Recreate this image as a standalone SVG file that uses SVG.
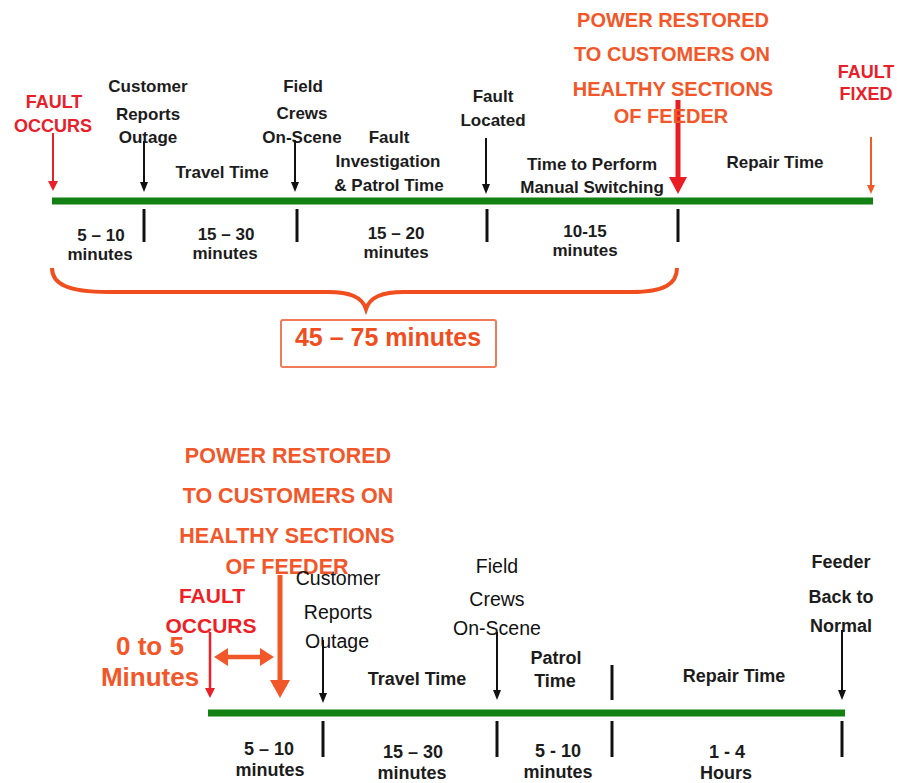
<svg xmlns="http://www.w3.org/2000/svg" width="897" height="783" viewBox="0 0 897 783">
<style>
text{font-family:"Liberation Sans",Arial,sans-serif;text-anchor:middle}
.lb{font-size:17px;font-weight:bold;fill:#1c1c1c}
.lb2{font-size:18px;font-weight:bold;fill:#1c1c1c}
.lr{font-size:19.5px;font-weight:normal;fill:#111}
.num{font-size:17px;font-weight:bold;fill:#1c1c1c}
.num2{font-size:18px;font-weight:bold;fill:#1c1c1c}
.red{font-size:18px;font-weight:bold;fill:#e8202a}
.red2{font-size:21px;font-weight:bold;fill:#ee1f26}
.pw{font-size:20px;font-weight:bold;fill:#f2572a}
.pw2{font-size:21.5px;font-weight:bold;fill:#f2572a}
.big{font-size:26px;font-weight:bold;fill:#f2572a}
.green{stroke:#138013;stroke-width:7;fill:none}
.tick{stroke:#111;stroke-width:3}
.ab{stroke:#111;stroke-width:2;marker-end:url(#mb)}
</style>
<defs>
<marker id="mb" viewBox="0 0 10 8" markerWidth="10" markerHeight="8" refX="1" refY="4" orient="auto" markerUnits="userSpaceOnUse"><path d="M0,0 L10,4 L0,8 z" fill="#111"/></marker>
<marker id="mr" viewBox="0 0 10 10" markerWidth="10" markerHeight="10" refX="1" refY="5" orient="auto" markerUnits="userSpaceOnUse"><path d="M0,0 L10,5 L0,10 z" fill="#e8202a"/></marker>
<marker id="mo" viewBox="0 0 9 8" markerWidth="9" markerHeight="8" refX="1" refY="4" orient="auto" markerUnits="userSpaceOnUse"><path d="M0,0 L9,4 L0,8 z" fill="#f05a28"/></marker>
<marker id="mrb" viewBox="0 0 17 18" markerWidth="17" markerHeight="18" refX="1" refY="9" orient="auto" markerUnits="userSpaceOnUse"><path d="M0,0 L17,9 L0,18 z" fill="#ea1c24"/></marker>
<marker id="mob" viewBox="0 0 18 20" markerWidth="18" markerHeight="20" refX="1" refY="10" orient="auto" markerUnits="userSpaceOnUse"><path d="M0,0 L18,10 L0,20 z" fill="#f2572a"/></marker>
<marker id="mod" viewBox="0 0 14 18" markerWidth="14" markerHeight="18" refX="1" refY="9" orient="auto-start-reverse" markerUnits="userSpaceOnUse"><path d="M0,0 L14,9 L0,18 z" fill="#f2572a"/></marker>
</defs>
<rect width="897" height="783" fill="#fff"/>

<!-- ===== TOP TIMELINE ===== -->
<g id="connectors-top">
<line class="green" x1="52" y1="201" x2="873" y2="201"/>
<line x1="53" y1="133" x2="53" y2="182" stroke="#e8202a" stroke-width="2" marker-end="url(#mr)"/>
<line class="ab" x1="144" y1="141" x2="144" y2="183"/>
<line class="ab" x1="295" y1="140" x2="295" y2="183"/>
<line class="ab" x1="486" y1="138" x2="486" y2="185"/>
<line x1="678" y1="100" x2="678" y2="178" stroke="#ea1c24" stroke-width="5" marker-end="url(#mrb)"/>
<line x1="871" y1="137" x2="871" y2="186" stroke="#f05a28" stroke-width="2" marker-end="url(#mo)"/>
<line class="tick" x1="144" y1="209" x2="144" y2="242"/>
<line class="tick" x1="297" y1="209" x2="297" y2="242"/>
<line class="tick" x1="487" y1="209" x2="487" y2="242"/>
<line class="tick" x1="678" y1="209" x2="678" y2="242"/>
<path d="M52,268 C52,284 68,292 108,292 L328,292 C350,292 362,297 366,309 C370,297 382,292 404,292 L632,292 C664,292 677,284 677,268" fill="none" stroke="#f04e1e" stroke-width="4"/>
</g>

<g id="fault-occurs-top">
<text class="red" x="54" y="108">FAULT</text>
<text class="red" x="53" y="132">OCCURS</text>
</g>
<g id="customer-top">
<text class="lb" x="148" y="92">Customer</text>
<text class="lb" x="148" y="120">Reports</text>
<text class="lb" x="148" y="143">Outage</text>
</g>
<g id="travel-top"><text class="lb" x="222" y="178">Travel Time</text></g>
<g id="field-top">
<text class="lb" x="303" y="92">Field</text>
<text class="lb" x="302" y="119">Crews</text>
<text class="lb" x="302" y="143">On-Scene</text>
</g>
<g id="patrol-top">
<text class="lb" x="389" y="143">Fault</text>
<text class="lb" x="388" y="167">Investigation</text>
<text class="lb" x="389" y="191">&amp; Patrol Time</text>
</g>
<g id="located-top">
<text class="lb" x="493" y="102">Fault</text>
<text class="lb" x="493" y="126">Located</text>
</g>
<g id="switching-top">
<text class="lb" x="592" y="170">Time to Perform</text>
<text class="lb" x="592" y="193">Manual Switching</text>
</g>
<g id="power-top">
<text class="pw" x="673" y="27">POWER RESTORED</text>
<text class="pw" x="672" y="61">TO CUSTOMERS ON</text>
<text class="pw" x="673" y="96">HEALTHY SECTIONS</text>
<text class="pw" x="671" y="123">OF FEEDER</text>
</g>
<g id="repair-top"><text class="lb" x="775" y="168">Repair Time</text></g>
<g id="fixed-top">
<text class="red" x="866" y="78">FAULT</text>
<text class="red" x="866" y="100">FIXED</text>
</g>
<g id="durations-top">
<text class="num" x="101" y="241">5 – 10</text>
<text class="num" x="100" y="260">minutes</text>
<text class="num" x="226" y="240">15 – 30</text>
<text class="num" x="225" y="259">minutes</text>
<text class="num" x="396" y="239">15 – 20</text>
<text class="num" x="396" y="258">minutes</text>
<text class="num" x="585" y="237">10-15</text>
<text class="num" x="585" y="256">minutes</text>
</g>
<g id="total-box">
<rect x="281" y="320" width="215" height="47" rx="2" fill="#fff" stroke="#f07a5a" stroke-width="2"/>
<text x="388" y="346" font-size="25" font-weight="bold" fill="#f04e1e">45 – 75 minutes</text>
</g>

<!-- ===== BOTTOM TIMELINE ===== -->
<g id="connectors-bottom">
<line class="green" x1="208" y1="713" x2="845" y2="713"/>
<line x1="210" y1="632" x2="210" y2="689" stroke="#ee1f26" stroke-width="2.5" marker-end="url(#mr)"/>
<line x1="280" y1="575" x2="280" y2="681" stroke="#f2572a" stroke-width="5" marker-end="url(#mob)"/>
<line x1="227" y1="657" x2="261" y2="657" stroke="#f2572a" stroke-width="4.5" marker-start="url(#mod)" marker-end="url(#mod)"/>
<line class="ab" x1="323" y1="640" x2="323" y2="694"/>
<line class="ab" x1="497" y1="632" x2="497" y2="691"/>
<line class="ab" x1="842" y1="630" x2="842" y2="691"/>
<line class="tick" x1="612" y1="665" x2="612" y2="700"/>
<line class="tick" x1="323" y1="721" x2="323" y2="757"/>
<line class="tick" x1="497" y1="721" x2="497" y2="757"/>
<line class="tick" x1="612" y1="721" x2="612" y2="757"/>
<line class="tick" x1="842" y1="721" x2="842" y2="757"/>
</g>
<g id="power-bottom">
<text class="pw2" x="288" y="463">POWER RESTORED</text>
<text class="pw2" x="288" y="503">TO CUSTOMERS ON</text>
<text class="pw2" x="287" y="543">HEALTHY SECTIONS</text>
<text class="pw2" x="287" y="574">OF FEEDER</text>
</g>
<g id="fault-occurs-bottom">
<text class="red2" x="212" y="603">FAULT</text>
<text class="red2" x="211" y="633">OCCURS</text>
</g>
<g id="zero-to-five">
<text class="big" x="150" y="655">0 to 5</text>
<text class="big" x="150" y="686">Minutes</text>
</g>
<g id="customer-bottom">
<text class="lr" x="338" y="585">Customer</text>
<text class="lr" x="338" y="619">Reports</text>
<text class="lr" x="337" y="648">Outage</text>
</g>
<g id="travel-bottom"><text class="lb2" x="417" y="685">Travel Time</text></g>
<g id="field-bottom">
<text class="lr" x="497" y="573">Field</text>
<text class="lr" x="497" y="606">Crews</text>
<text class="lr" x="497" y="635">On-Scene</text>
</g>
<g id="patrol-bottom">
<text class="lb2" x="556" y="664">Patrol</text>
<text class="lb2" x="555" y="687">Time</text>
</g>
<g id="repair-bottom"><text class="lb2" x="734" y="682">Repair Time</text></g>
<g id="normal-bottom">
<text class="lb2" x="841" y="568">Feeder</text>
<text class="lb2" x="841" y="603">Back to</text>
<text class="lb2" x="841" y="632">Normal</text>
</g>
<g id="durations-bottom">
<text class="num2" x="269" y="755">5 – 10</text>
<text class="num2" x="270" y="776">minutes</text>
<text class="num2" x="413" y="758">15 – 30</text>
<text class="num2" x="412" y="779">minutes</text>
<text class="num2" x="558" y="757">5 - 10</text>
<text class="num2" x="558" y="778">minutes</text>
<text class="num2" x="727" y="758">1 - 4</text>
<text class="num2" x="726" y="779">Hours</text>
</g>
</svg>
